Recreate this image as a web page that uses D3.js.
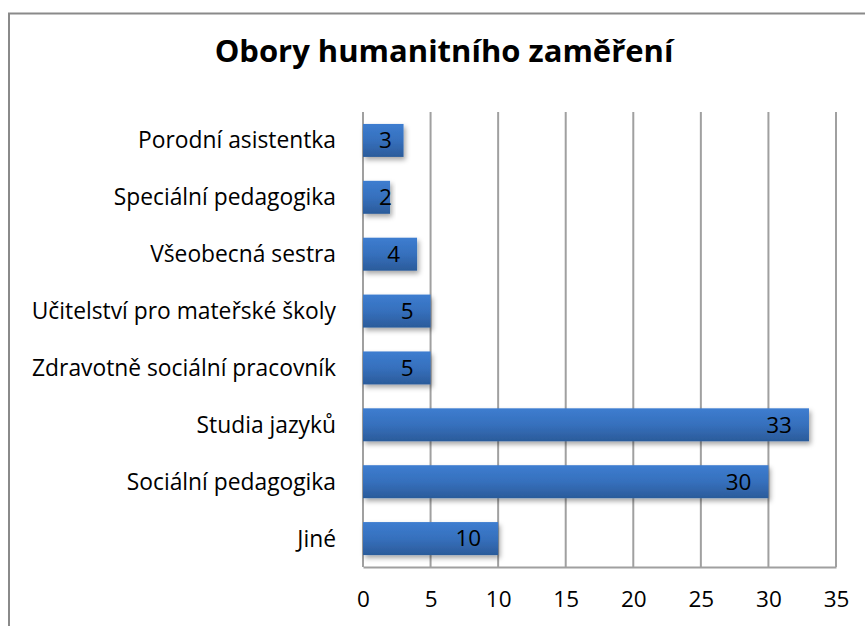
<!DOCTYPE html>
<html>
<head>
<meta charset="utf-8">
<script src="https://cdn.jsdelivr.net/npm/d3@7"></script>
<style>
  body { margin: 0; background: #fff; }
  svg { display: block; font-family: "Open Sans", "Noto Sans", sans-serif; }
</style>
</head>
<body>
<svg id="chart"></svg>
<script>
const categories = ['Porodní asistentka', 'Speciální pedagogika', 'Všeobecná sestra', 'Učitelství pro mateřské školy', 'Zdravotně sociální pracovník', 'Studia jazyků', 'Sociální pedagogika', 'Jiné']
const values = [3, 2, 4, 5, 5, 33, 30, 10]
const tickValues = [0, 5, 10, 15, 20, 25, 30, 35]
const title = 'Obory humanitního zaměření'

const width = 865
const height = 626
const margin = { top: 112, right: 29, bottom: 59, left: 363 }
const font = '"Open Sans", "Noto Sans", sans-serif'

const data = categories.map((name, i) => ({ name, value: values[i] }))

const svg = d3.select('#chart')
  .attr('width', width)
  .attr('height', height)

const defs = svg.append('defs')
const grad = defs.append('linearGradient')
  .attr('id', 'barGrad')
  .attr('x1', 0).attr('y1', 0).attr('x2', 0).attr('y2', 1)
grad.append('stop').attr('offset', '0%').attr('stop-color', '#3d7dd0')
grad.append('stop').attr('offset', '50%').attr('stop-color', '#3670bd')
grad.append('stop').attr('offset', '100%').attr('stop-color', '#2b5b9a')

const shadow = defs.append('filter')
  .attr('id', 'shadow')
  .attr('x', '-10%').attr('y', '-20%').attr('width', '130%').attr('height', '160%')
shadow.append('feDropShadow')
  .attr('dx', 2).attr('dy', 3).attr('stdDeviation', 2.5)
  .attr('flood-color', '#000').attr('flood-opacity', 0.35)

// outer chart border (runs off the page on the right and bottom)
svg.append('rect')
  .attr('x', 9).attr('y', 13.5)
  .attr('width', 900).attr('height', 700)
  .attr('fill', 'none')
  .attr('stroke', '#8a8a8a')
  .attr('stroke-width', 2)

const x = d3.scaleLinear()
  .domain([0, 35])
  .range([margin.left, width - margin.right])

const y = d3.scaleBand()
  .domain(categories)
  .range([margin.top, height - margin.bottom])
  .paddingInner(0.42)
  .paddingOuter(0.21)

// gridlines
svg.append('g')
  .selectAll('line')
  .data(tickValues)
  .enter().append('line')
  .attr('x1', d => x(d)).attr('x2', d => x(d))
  .attr('y1', margin.top).attr('y2', height - margin.bottom)
  .attr('stroke', '#a0a0a0')
  .attr('stroke-width', 2)

// bottom axis
const xAxis = svg.append('g')
  .attr('transform', `translate(0,${height - margin.bottom})`)
  .call(d3.axisBottom(x).tickValues(tickValues).tickSize(0).tickPadding(24))
xAxis.select('.domain').attr('stroke', '#a0a0a0').attr('stroke-width', 2)
xAxis.selectAll('text')
  .attr('font-size', 22.5)
  .attr('fill', '#000')
  .attr('font-family', font)

// category labels
svg.append('g')
  .selectAll('text')
  .data(data)
  .enter().append('text')
  .attr('x', margin.left - 27)
  .attr('y', d => y(d.name) + y.bandwidth() / 2)
  .attr('dy', '0.35em')
  .attr('text-anchor', 'end')
  .attr('font-size', 22.8)
  .attr('fill', '#000')
  .text(d => d.name)

// bars
const bar = svg.append('g')
  .selectAll('.bar')
  .data(data)
  .enter().append('g')
  .attr('class', 'bar')

bar.append('rect')
  .attr('x', x(0))
  .attr('y', d => y(d.name))
  .attr('width', d => x(d.value) - x(0))
  .attr('height', y.bandwidth())
  .attr('fill', 'url(#barGrad)')
  .attr('filter', 'url(#shadow)')

// value labels, inside end like Excel, but never closer to the axis than 16px
bar.append('text')
  .attr('y', d => y(d.name) + y.bandwidth() / 2)
  .attr('dy', '0.35em')
  .attr('font-size', 22.5)
  .attr('fill', '#000')
  .text(d => d.value)
  .attr('x', function (d) {
    const w = this.getComputedTextLength()
    return Math.max(x(0) + 16, x(d.value) - 17 - w)
  })

// title
svg.append('text')
  .attr('x', 444)
  .attr('y', 62)
  .attr('text-anchor', 'middle')
  .attr('font-size', 31)
  .attr('font-weight', 'bold')
  .attr('fill', '#000')
  .text(title)
</script>
</body>
</html>
